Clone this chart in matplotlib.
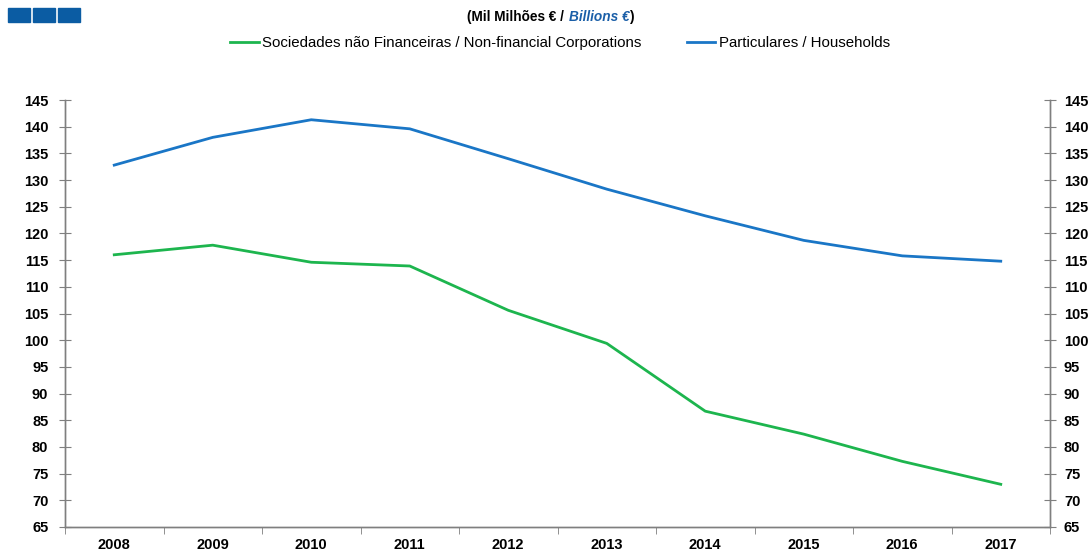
import numpy as np
import matplotlib
matplotlib.use("Agg")
from matplotlib import pyplot as plt
from matplotlib.patches import Rectangle

years = ["2008", "2009", "2010", "2011", "2012", "2013", "2014", "2015", "2016", "2017"]
corporations = [116.0, 117.8, 114.6, 113.9, 105.6, 99.4, 86.7, 82.4, 77.3, 73.0]
households = [132.8, 138.0, 141.3, 139.6, 134.0, 128.3, 123.3, 118.7, 115.8, 114.8]
label_corp = "Sociedades não Financeiras / Non-financial Corporations"
label_house = "Particulares / Households"

green = "#1DB54E"
blue = "#1A76C6"
spine_grey = "#7f7f7f"

plt.rcParams["font.family"] = ["Liberation Sans", "DejaVu Sans"]

fig = plt.figure(figsize=(10.91, 5.52), dpi=100)
ax = fig.add_axes([65 / 1091, 25 / 552, 985 / 1091, 427 / 552])

x = np.arange(len(years))
ax.plot(x, corporations, color=green, lw=2, label=label_corp)
ax.plot(x, households, color=blue, lw=2, label=label_house)

ax.set_xlim(-0.5, len(years) - 0.5)
ax.set_ylim(65, 145)
yticks = np.arange(65, 146, 5)
ax.set_yticks(yticks)
ax.set_xticks(x)
ax.set_xticklabels(years, fontsize=10.5, fontweight="bold")
ax.set_xticks(np.arange(-0.5, len(years)), minor=True)
ax.tick_params(axis="x", which="major", length=0, pad=8)
ax.tick_params(axis="x", which="minor", length=5, direction="out", color=spine_grey)
ax.tick_params(axis="y", direction="inout", length=8, color=spine_grey, labelsize=10.5, pad=8)
for lab in ax.get_yticklabels():
    lab.set_fontweight("bold")

ax2 = ax.twinx()
ax2.set_ylim(65, 145)
ax2.set_yticks(yticks)
ax2.tick_params(axis="y", direction="inout", length=8, color=spine_grey, labelsize=10.5, pad=6)
for lab in ax2.get_yticklabels():
    lab.set_fontweight("bold")

for a in (ax, ax2):
    a.spines["top"].set_visible(False)
    for s in ("left", "right", "bottom"):
        a.spines[s].set_color(spine_grey)
        a.spines[s].set_linewidth(1)

# logo squares
for i in range(3):
    fig.patches.append(Rectangle(((8 + i * 25) / 1091, 1 - 22 / 552), 22 / 1091, 14 / 552,
                                 transform=fig.transFigure, color="#0B5CA3"))

# title, built from pieces placed one after another
ty = 1 - 17 / 552
renderer = fig.canvas.get_renderer()
pieces = [("(Mil Milhões € / ", "normal", "black"),
          ("Billions €", "italic", "#1B5FA8"),
          (")", "normal", "black")]
xpos = 467
for txt, st, col in pieces:
    t = fig.text(xpos / 1091, ty, txt, ha="left", va="center", fontsize=9.8,
                 fontweight="bold", style=st, color=col)
    xpos += t.get_window_extent(renderer).width + 1

fig.legend(loc="center", bbox_to_anchor=(560 / 1091, 1 - 43 / 552), ncol=2,
           frameon=False, fontsize=10.8, handlelength=1.9, handletextpad=0.25,
           columnspacing=3.0)

plt.savefig("out.png", dpi=100)
